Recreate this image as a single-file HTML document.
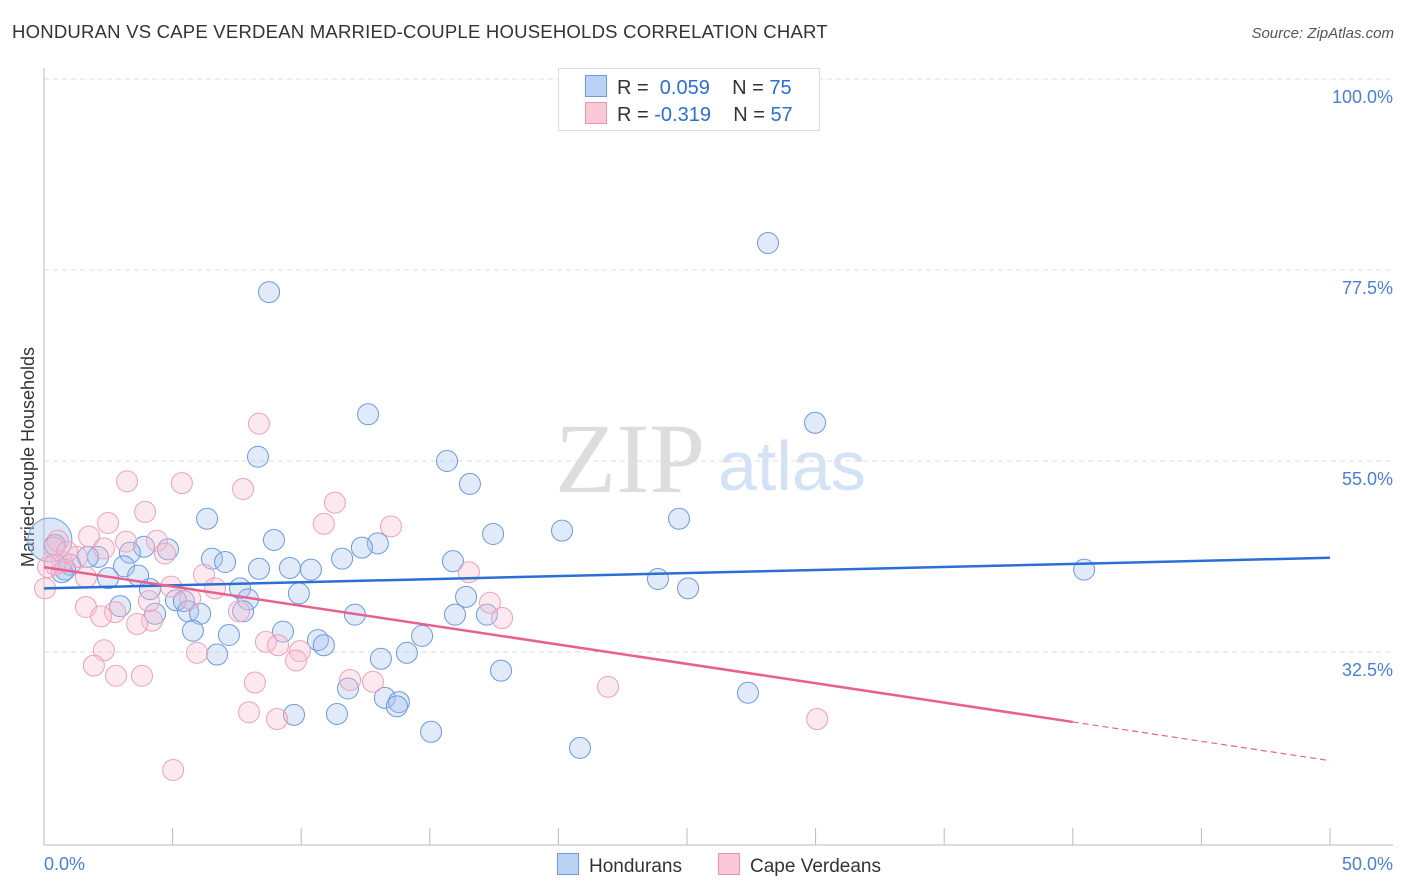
<!DOCTYPE html>
<html><head><meta charset="utf-8">
<style>
body{margin:0;background:#fff;font-family:"Liberation Sans",sans-serif;}
#wrap{position:relative;width:1406px;height:892px;overflow:hidden;}
.t{position:absolute;white-space:nowrap;}
</style></head><body>
<div id="wrap">
<div class="t" style="left:12px;top:22px;font-size:18px;color:#333;letter-spacing:0.2px;transform:scaleX(1.03);transform-origin:left;">HONDURAN VS CAPE VERDEAN MARRIED-COUPLE HOUSEHOLDS CORRELATION CHART</div>
<div class="t" style="right:12px;top:25px;font-size:15px;color:#555;font-style:italic;">Source: ZipAtlas.com</div>
<svg id="svg" width="1406" height="892" style="position:absolute;left:0;top:0"></svg>
</div>
<script>
const xTicks=[0,5,10,15,20,25,30,35,40,45,50];
const yGrid=[100,77.5,55,32.5];
const yLabels=["100.0%","77.5%","55.0%","32.5%"];
const blueX=[28.15,8.75,12.6,29.98,8.32,15.67,16.56,6.34,24.69,20.14,17.46,8.94,12.98,12.36,3.89,4.82,3.34,2.1,6.53,7.04,11.59,15.9,3.11,8.36,9.56,10.38,40.44,1.01,0.7,2.49,3.66,23.87,25.04,7.62,4.12,9.91,16.41,7.93,5.13,5.44,2.96,4.32,5.6,6.07,7.74,12.09,15.98,17.22,5.79,7.19,9.29,10.65,10.88,14.7,14.11,6.73,13.1,17.77,11.82,27.37,13.25,13.8,13.72,9.72,11.39,15.05,20.84,0.43,0.82,1.71];
const blueY=[80.68,74.9,60.5,59.5,55.5,55.0,52.3,48.2,48.2,46.8,46.4,45.7,45.3,44.8,44.9,44.6,44.2,43.7,43.5,43.1,43.5,43.2,42.6,42.3,42.4,42.2,42.2,42.8,41.9,41.2,41.5,41.1,40.0,40.0,39.9,39.4,39.0,38.7,38.6,38.5,37.9,37.0,37.3,37.0,37.3,36.9,36.9,36.9,35.0,34.5,34.9,33.9,33.3,34.4,32.4,32.2,31.7,30.3,28.2,27.7,27.1,26.6,26.1,25.1,25.2,23.1,21.2,45.1,42.2,43.7];
const pinkX=[8.36,3.23,5.36,7.74,11.31,3.93,2.49,10.88,13.49,1.75,3.19,4.39,0.54,2.33,4.7,1.28,0.7,0.16,16.52,6.22,1.63,4.94,6.65,0.04,5.68,4.08,17.34,1.63,2.76,2.22,7.58,17.81,4.2,3.62,8.63,9.1,2.33,5.95,9.95,9.8,1.94,2.8,3.81,11.9,12.79,8.2,21.93,7.97,9.06,30.06,5.02,0.39,0.9,0.43];
const pinkY=[59.4,52.6,52.4,51.7,50.1,49.0,47.7,47.6,47.3,46.1,45.5,45.6,45.6,44.7,44.1,43.7,43.1,42.5,41.9,41.6,41.3,40.2,40.0,40.0,38.8,38.5,38.3,37.8,37.2,36.7,37.3,36.5,36.2,35.8,33.7,33.3,32.7,32.4,32.6,31.5,30.9,29.7,29.7,29.2,29.0,28.9,28.4,25.4,24.6,24.6,18.6,44.8,44.3,42.8];
const blueTrend=[40.0,43.6];
const pinkTrend=[42.5,19.7];
const pinkSolidEnd=40;
const sx=v=>44+v/50*1286;
const sy=v=>79+(100-v)/22.5*191;
const svg=document.getElementById('svg');
const NS='http://www.w3.org/2000/svg';
function mk(tag,attrs,parent){const e=document.createElementNS(NS,tag);for(const k in attrs)e.setAttribute(k,attrs[k]);(parent||svg).appendChild(e);return e;}
let w=mk('text',{x:555,y:492,'font-size':100,'font-family':'Liberation Serif',fill:'#ddd'});w.textContent='ZIP';


let w2=mk('text',{x:718,y:490,'font-size':70,'font-family':'Liberation Sans',fill:'#d3e2f5'});w2.textContent='atlas';


yGrid.forEach((g,i)=>{
 const l=mk('line',{x1:44,x2:1393,y1:sy(g),y2:sy(g),stroke:'#ddd','stroke-dasharray':'5,4'});
 
 
 const t=mk('text',{x:1393,y:sy(g)+24,'text-anchor':'end','font-size':18,fill:'#4a7fd4','font-family':'Liberation Sans'});t.textContent=yLabels[i];
 
 
});
const ax=mk('line',{x1:44,x2:44,y1:68,y2:845,stroke:'#bbb'});


const bx=mk('line',{x1:44,x2:1393,y1:845,y2:845,stroke:'#bbb'});


xTicks.forEach(v=>{
 const l=mk('line',{x1:sx(v),x2:sx(v),y1:828,y2:845,stroke:'#bbb'});
 
 
});
[[0,'0.0%','start',44],[50,'50.0%','end',1393]].forEach(a=>{
 const t=mk('text',{x:a[3],y:870,'text-anchor':a[2],'font-size':18,fill:'#4a7fd4','font-family':'Liberation Sans'});t.textContent=a[1];
 
 
});
const yt=mk('text',{x:34,y:457,'text-anchor':'middle','font-size':18,fill:'#333','font-family':'Liberation Sans',transform:'rotate(-90 34 457)'});yt.textContent='Married-couple Households';


const big=mk('circle',{cx:sx(0.23),cy:sy(45.7),r:22,fill:'rgba(165,195,238,0.4)',stroke:'#7aa5e2','stroke-width':1});


blueX.forEach((x,i)=>{
 const c=mk('circle',{cx:sx(x),cy:sy(blueY[i]),r:10.5,fill:'rgba(165,195,238,0.35)',stroke:'#6b9ade','stroke-width':1});
 
 
});
pinkX.forEach((x,i)=>{
 const c=mk('circle',{cx:sx(x),cy:sy(pinkY[i]),r:10.5,fill:'rgba(246,190,208,0.35)',stroke:'#efa0ba','stroke-width':1});
 
 
});
const bl=mk('line',{x1:sx(0),y1:sy(blueTrend[0]),x2:sx(50),y2:sy(blueTrend[1]),stroke:'#2a6fd4','stroke-width':2.5});


const pAt=x=>pinkTrend[0]+(pinkTrend[1]-pinkTrend[0])*x/50;
const pl=mk('line',{x1:sx(0),y1:sy(pAt(0)),x2:sx(pinkSolidEnd),y2:sy(pAt(pinkSolidEnd)),stroke:'#e8608e','stroke-width':2.5});


const pd=mk('line',{x1:sx(pinkSolidEnd),y1:sy(pAt(pinkSolidEnd)),x2:sx(50),y2:sy(pAt(50)),stroke:'#e8608e','stroke-width':1.2,'stroke-dasharray':'6,4'});


</script>
<div class="t" style="left:558px;top:68px;width:260px;height:61px;border:1px solid #ddd;background:#fff;font-size:20px;color:#333;">
 <div style="position:absolute;left:26px;top:6px;"><span style="display:inline-block;width:20px;height:20px;background:#b9d2f5;border:1px solid #6d9be0;vertical-align:-3px;margin-right:10px"></span>R = &nbsp;<span style="color:#2a6fd4">0.059</span>&nbsp;&nbsp;&nbsp; N = <span style="color:#2a6fd4">75</span></div>
 <div style="position:absolute;left:26px;top:33px;"><span style="display:inline-block;width:20px;height:20px;background:#f9c9d7;border:1px solid #ec93b0;vertical-align:-3px;margin-right:10px"></span>R = <span style="color:#2a6fd4">-0.319</span>&nbsp;&nbsp;&nbsp; N = <span style="color:#2a6fd4">57</span></div>
</div>
<div class="t" style="left:557px;top:853px;font-size:19px;color:#333;"><span style="display:inline-block;width:20px;height:20px;background:#b9d2f5;border:1px solid #6d9be0;vertical-align:-3px;margin-right:10px"></span>Hondurans</div>
<div class="t" style="left:718px;top:853px;font-size:19px;color:#333;"><span style="display:inline-block;width:20px;height:20px;background:#f9c9d7;border:1px solid #ec93b0;vertical-align:-3px;margin-right:10px"></span>Cape Verdeans</div>
</body></html>
